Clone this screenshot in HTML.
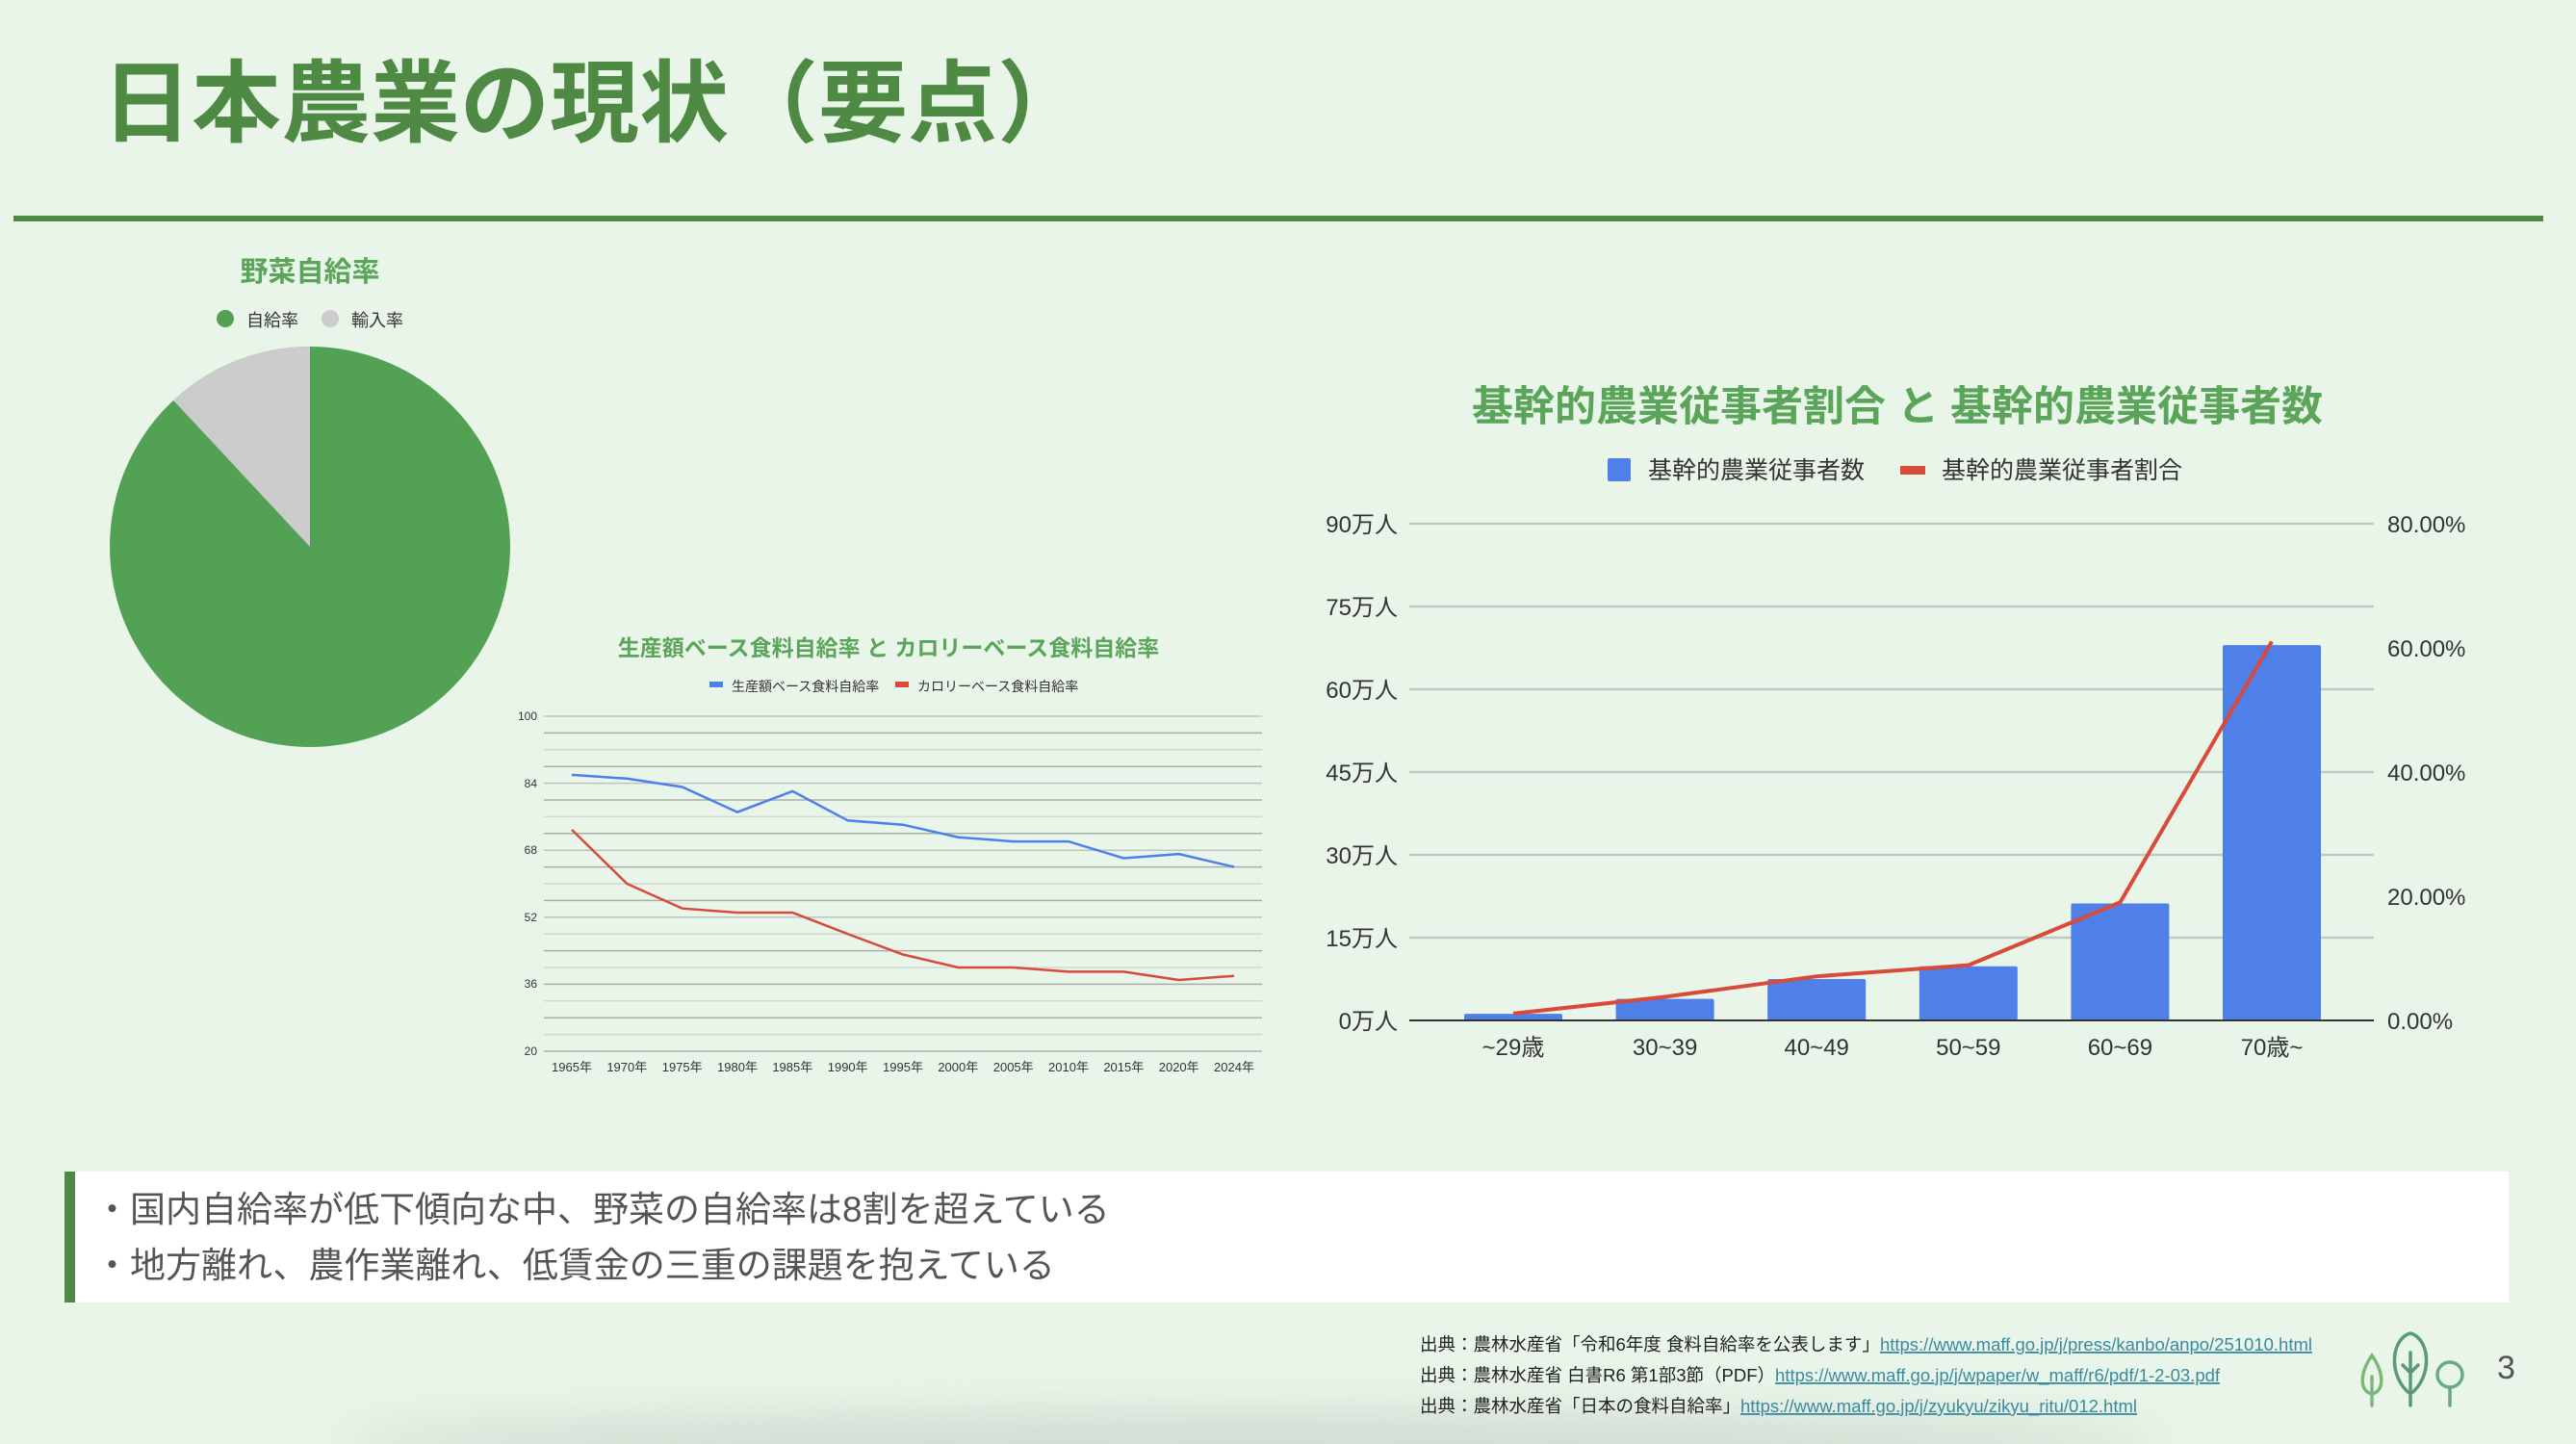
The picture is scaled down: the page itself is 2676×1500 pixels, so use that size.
<!DOCTYPE html>
<html><head><meta charset="utf-8">
<style>
html,body{margin:0;padding:0;background:#e9f5e9;}
body{width:2676px;height:1500px;overflow:hidden;position:relative;}
svg{position:absolute;left:0;top:0;}
text{font-family:"Liberation Sans","Noto Sans CJK JP",sans-serif;}
</style></head><body>
<svg width="2676" height="1500" viewBox="0 0 2676 1500" xmlns="http://www.w3.org/2000/svg">
<defs>
<filter id="bl" x="-20%" y="-200%" width="140%" height="500%"><feGaussianBlur stdDeviation="25"/></filter>
</defs>
<rect width="2676" height="1500" fill="#e9f5e9"/>
<ellipse cx="1300" cy="1500" rx="950" ry="30" fill="#c9d2c9" opacity="0.8" filter="url(#bl)"/>
<!-- Title -->
<text x="106" y="140" font-size="93" font-weight="bold" fill="#4e8a43">日本農業の現状（要点）</text>
<rect x="14" y="224" width="2628" height="6" fill="#4e8a43"/>

<!-- Pie -->
<text x="322" y="292" font-size="29" font-weight="bold" fill="#5aa55a" text-anchor="middle">野菜自給率</text>
<circle cx="234" cy="331" r="9" fill="#53a155"/>
<text x="256" y="339" font-size="18" fill="#333">自給率</text>
<circle cx="343" cy="331" r="9" fill="#cccccc"/>
<text x="365" y="339" font-size="18" fill="#333">輸入率</text>
<circle cx="322" cy="568" r="208" fill="#53a155"/>
<path d="M322,568 L322,360 A208,208 0 0 0 180.1,415.9 Z" fill="#cccccc"/>

<!-- Line chart -->
<text x="923" y="681" font-size="23" font-weight="bold" fill="#5aa55a" text-anchor="middle">生産額ベース食料自給率 と カロリーベース食料自給率</text>
<rect x="737" y="708" width="14" height="6" fill="#4f7fe8"/>
<text x="760" y="718" font-size="14" fill="#333">生産額ベース食料自給率</text>
<rect x="930" y="708" width="14" height="6" fill="#d84a3a"/>
<text x="953" y="718" font-size="14" fill="#333">カロリーベース食料自給率</text>
<g stroke-width="1.5">
<line x1="565" x2="1311" y1="744" y2="744" stroke="#bfc3bf"/>
<line x1="565" x2="1311" y1="761.4" y2="761.4" stroke="#a9aea9"/>
<line x1="565" x2="1311" y1="778.8" y2="778.8" stroke="#d3d7d3"/>
<line x1="565" x2="1311" y1="796.2" y2="796.2" stroke="#a9aea9"/>
<line x1="565" x2="1311" y1="813.6" y2="813.6" stroke="#bfc3bf"/>
<line x1="565" x2="1311" y1="831" y2="831" stroke="#a9aea9"/>
<line x1="565" x2="1311" y1="848.4" y2="848.4" stroke="#d3d7d3"/>
<line x1="565" x2="1311" y1="865.8" y2="865.8" stroke="#a9aea9"/>
<line x1="565" x2="1311" y1="883.2" y2="883.2" stroke="#bfc3bf"/>
<line x1="565" x2="1311" y1="900.6" y2="900.6" stroke="#a9aea9"/>
<line x1="565" x2="1311" y1="918" y2="918" stroke="#d3d7d3"/>
<line x1="565" x2="1311" y1="935.4" y2="935.4" stroke="#a9aea9"/>
<line x1="565" x2="1311" y1="952.8" y2="952.8" stroke="#bfc3bf"/>
<line x1="565" x2="1311" y1="970.2" y2="970.2" stroke="#d3d7d3"/>
<line x1="565" x2="1311" y1="987.6" y2="987.6" stroke="#a9aea9"/>
<line x1="565" x2="1311" y1="1005" y2="1005" stroke="#d3d7d3"/>
<line x1="565" x2="1311" y1="1022.4" y2="1022.4" stroke="#a9aea9"/>
<line x1="565" x2="1311" y1="1039.8" y2="1039.8" stroke="#d3d7d3"/>
<line x1="565" x2="1311" y1="1057.2" y2="1057.2" stroke="#a9aea9"/>
<line x1="565" x2="1311" y1="1074.6" y2="1074.6" stroke="#d3d7d3"/>
<line x1="565" x2="1311" y1="1092" y2="1092" stroke="#a9aea9"/>
</g>
<g font-size="12" fill="#333" text-anchor="end">
<text x="558" y="748">100</text><text x="558" y="818">84</text><text x="558" y="887">68</text>
<text x="558" y="957">52</text><text x="558" y="1026">36</text><text x="558" y="1096">20</text>
</g>
<g font-size="13" fill="#333" text-anchor="middle">
<text x="594" y="1113">1965年</text><text x="651.3" y="1113">1970年</text><text x="708.7" y="1113">1975年</text>
<text x="766" y="1113">1980年</text><text x="823.3" y="1113">1985年</text><text x="880.7" y="1113">1990年</text>
<text x="938" y="1113">1995年</text><text x="995.3" y="1113">2000年</text><text x="1052.7" y="1113">2005年</text>
<text x="1110" y="1113">2010年</text><text x="1167.3" y="1113">2015年</text><text x="1224.7" y="1113">2020年</text>
<text x="1282" y="1113">2024年</text>
</g>
<polyline fill="none" stroke="#4f7fe8" stroke-width="2.5" points="594,804.9 651.3,808.8 708.7,817.5 766,843.6 823.3,821.9 880.7,852.3 938,856.7 995.3,869.7 1052.7,874.1 1110,874.1 1167.3,891.5 1224.7,887.1 1282,900.6"/>
<polyline fill="none" stroke="#d84a3a" stroke-width="2.5" points="594,861.9 651.3,918 708.7,943.7 766,948 823.3,948 880.7,970.2 938,991.5 995.3,1005 1052.7,1005 1110,1009.4 1167.3,1009.4 1224.7,1018 1282,1013.7"/>

<!-- Bar chart -->
<text x="1971" y="437" font-size="43" font-weight="bold" fill="#5aa55a" text-anchor="middle">基幹的農業従事者割合 と 基幹的農業従事者数</text>
<rect x="1670" y="476" width="24" height="24" rx="2" fill="#4f7fe8"/>
<text x="1712" y="497" font-size="25" fill="#333">基幹的農業従事者数</text>
<rect x="1974" y="484" width="26" height="9" fill="#d84a3a"/>
<text x="2017" y="497" font-size="25" fill="#333">基幹的農業従事者割合</text>
<g stroke="#c4c8c4" stroke-width="2.5">
<line x1="1464" x2="2466" y1="544" y2="544"/><line x1="1464" x2="2466" y1="630" y2="630"/>
<line x1="1464" x2="2466" y1="716" y2="716"/><line x1="1464" x2="2466" y1="802" y2="802"/>
<line x1="1464" x2="2466" y1="888" y2="888"/><line x1="1464" x2="2466" y1="974" y2="974"/>
</g>
<g font-size="24" fill="#333" text-anchor="end">
<text x="1452" y="553">90万人</text><text x="1452" y="639">75万人</text><text x="1452" y="725">60万人</text>
<text x="1452" y="811">45万人</text><text x="1452" y="897">30万人</text><text x="1452" y="983">15万人</text>
<text x="1452" y="1069">0万人</text>
</g>
<g font-size="24" fill="#333">
<text x="2480" y="553">80.00%</text><text x="2480" y="682">60.00%</text><text x="2480" y="811">40.00%</text>
<text x="2480" y="940">20.00%</text><text x="2480" y="1069">0.00%</text>
</g>
<g fill="#4f7fe8">
<rect x="1521" y="1053.1" width="102" height="6.9" rx="2"/>
<rect x="1678.6" y="1037.6" width="102" height="22.4" rx="2"/>
<rect x="1836.2" y="1017" width="102" height="43" rx="2"/>
<rect x="1993.8" y="1003.8" width="102" height="56.2" rx="2"/>
<rect x="2151.4" y="938.5" width="102" height="121.5" rx="2"/>
<rect x="2309" y="670.1" width="102" height="389.9" rx="2"/>
</g>
<line x1="1464" x2="2466" y1="1060" y2="1060" stroke="#333" stroke-width="2"/>
<polyline fill="none" stroke="#d84a3a" stroke-width="4" points="1572,1052.9 1729.6,1035.5 1887.2,1014.2 2044.8,1002.6 2202.4,937.4 2360,666.5"/>
<g font-size="24" fill="#333" text-anchor="middle">
<text x="1572" y="1096">~29歳</text><text x="1729.6" y="1096">30~39</text><text x="1887.2" y="1096">40~49</text>
<text x="2044.8" y="1096">50~59</text><text x="2202.4" y="1096">60~69</text><text x="2360" y="1096">70歳~</text>
</g>

<!-- Bullet box -->
<rect x="67" y="1217" width="2539" height="136" fill="#ffffff"/>
<rect x="67" y="1217" width="11" height="136" fill="#4e8a43"/>
<text x="98" y="1269" font-size="37" fill="#555">・国内自給率が低下傾向な中、野菜の自給率は8割を超えている</text>
<text x="98" y="1327" font-size="37" fill="#555">・地方離れ、農作業離れ、低賃金の三重の課題を抱えている</text>

<!-- Sources -->
<g font-size="18.5" fill="#222">
<text x="1475" y="1403">出典：農林水産省「令和6年度 食料自給率を公表します」<tspan fill="#3a8aa0" text-decoration="underline">https://www.maff.go.jp/j/press/kanbo/anpo/251010.html</tspan></text>
<text x="1475" y="1435">出典：農林水産省 白書R6 第1部3節（PDF）<tspan fill="#3a8aa0" text-decoration="underline">https://www.maff.go.jp/j/wpaper/w_maff/r6/pdf/1-2-03.pdf</tspan></text>
<text x="1475" y="1467">出典：農林水産省「日本の食料自給率」<tspan fill="#3a8aa0" text-decoration="underline">https://www.maff.go.jp/j/zyukyu/zikyu_ritu/012.html</tspan></text>
</g>
<!-- Tree icon -->
<g fill="none" stroke-width="3.5" stroke-linecap="round">
<path d="M2464,1408 C2452,1425 2450,1445 2464,1448 C2478,1445 2476,1425 2464,1408 Z M2464,1430 V1460" stroke="#7fb77a"/>
<path d="M2504,1385 C2484,1390 2480,1430 2504,1448 C2528,1430 2524,1390 2504,1385 Z M2504,1405 V1460 M2496,1418 L2504,1426 L2512,1418" stroke="#5a9a7a"/>
<circle cx="2545" cy="1428" r="13" stroke="#6aa88a"/>
<path d="M2545,1441 V1460" stroke="#6aa88a"/>
</g>
<text x="2594" y="1432" font-size="34" fill="#555">3</text>
</svg>
</body></html>
